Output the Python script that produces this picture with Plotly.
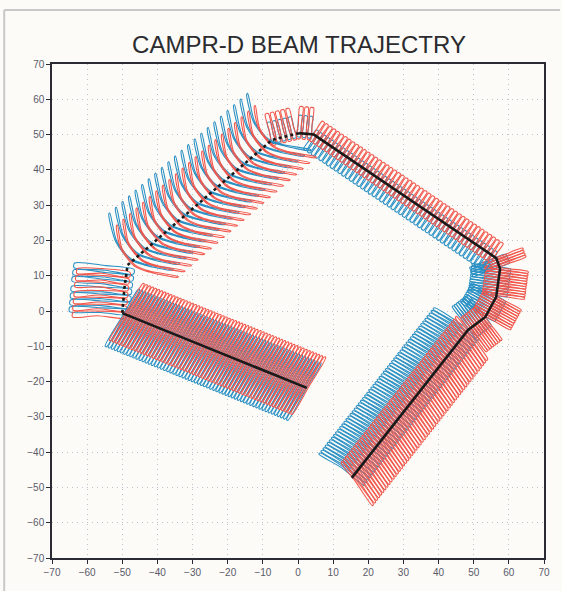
import numpy as np
import plotly.graph_objects as go

# ---- data ----
# aircraft track waypoints (km)
traj_x = [15.3, 48.4, 53.3, 56.4, 57.5, 56.4, 4.5, 0.3, -7.4, -48.5, -49.4, -50.0, 2.5]
traj_y = [-47.3, -5.4, -1.7, 4.0, 12.0, 15.0, 50.0, 50.4, 48.5, 13.0, 6.5, -0.6, -21.8]
seg_dash = ["solid"] * 7 + ["dot"] * 4 + ["solid"]

# beam legs (waypoint index ranges) and footprint parameters
leg_from = [0, 1, 5, 6, 8, 9, 11]
leg_to = [1, 5, 6, 8, 9, 11, 12]
beam_step = [0.95, 0.75, 1.3, 1.5, 2.5, 1.9, 0.95]
loop_width = [0.45, 0.45, 0.8, 0.9, 0.35, 1.3, 0.45]
# footprint outline in track frame: u along track, v to the left of track
blue_u = [[0, 0, -1], [0, 0, 0], [0, 0, 0], [0, 0, 0],
          [-7.8, -2.7, -0.65, -0.9, -4.6], [0, 0, 0.5], [-1.5, 0, 1.2]]
blue_v = [[-4, 4, 11.5], [-3, 3, 8], [-1.5, 2, 5], [1, -2, -5],
          [9.4, 3.0, -0.76, -7.2, -14.5], [2, -6, -15], [-10.5, 0, 8]]
red_u = [[-3, -0.5, 1], [0, 0, 0], [0, 0, 0], [0, 0, 0],
         [-7.6, -2.5, -0.5, -0.7, -4.0], [1, 1, 2], [-1, 0.5, 1.8]]
red_v = [[-9.5, -1, 5], [-8, -2, 4], [-4.5, -1, 2], [1.5, -3, -7.5],
         [11.9, 5.5, 1.7, -4.7, -10.5], [1, -7, -14], [-8.5, 1, 10]]

tick_vals = list(range(-70, 71, 10))
title_text = "CAMPR-D BEAM TRAJECTRY"

BLUE = "#2a90c4"
RED = "#f2574d"


def beam_paths(k, us, vs):
    i0, i1 = leg_from[k], leg_to[k]
    px = np.array(traj_x[i0:i1 + 1], float)
    py = np.array(traj_y[i0:i1 + 1], float)
    seg = np.hypot(np.diff(px), np.diff(py))
    cum = np.concatenate([[0.0], np.cumsum(seg)])
    total = cum[-1]
    n = max(1, int(round(total / beam_step[k])))
    s_vals = (np.arange(n) + 0.5) * total / n
    w = loop_width[k]
    us = np.array(us, float)
    vs = np.array(vs, float)
    uu = np.concatenate([us, us[::-1] + w, [us[0]]])
    vv = np.concatenate([vs, vs[::-1], [vs[0]]])
    xs, ys = [], []
    for s in s_vals:
        j = int(min(np.searchsorted(cum, s, side="right") - 1, len(seg) - 1))
        dx = (px[j + 1] - px[j]) / seg[j]
        dy = (py[j + 1] - py[j]) / seg[j]
        t = (s - cum[j]) / seg[j]
        x0 = px[j] + t * (px[j + 1] - px[j])
        y0 = py[j] + t * (py[j + 1] - py[j])
        nx, ny = -dy, dx
        xs += list(x0 + uu * dx + vv * nx) + [None]
        ys += list(y0 + uu * dy + vv * ny) + [None]
    return xs, ys


fig = go.Figure()
for k in range(len(leg_from)):
    for col, us, vs in ((BLUE, blue_u[k], blue_v[k]), (RED, red_u[k], red_v[k])):
        bx, by = beam_paths(k, us, vs)
        fig.add_trace(go.Scatter(x=bx, y=by, mode="lines",
                                 line=dict(color=col, width=1.1, shape="spline", smoothing=0.8),
                                 hoverinfo="skip", showlegend=False))

# track line, grouped by dash style
start = 0
for i in range(1, len(seg_dash) + 1):
    if i == len(seg_dash) or seg_dash[i] != seg_dash[start]:
        fig.add_trace(go.Scatter(x=traj_x[start:i + 1], y=traj_y[start:i + 1], mode="lines",
                                 line=dict(color="#1a1a1a", width=2.6, dash=seg_dash[start]),
                                 hoverinfo="skip", showlegend=False))
        start = i

L, R, T, B = 52, 16, 64, 33
W, H = 562, 591
pw, ph = W - L - R, H - T - B

axis_common = dict(range=[-70, 70], tickvals=tick_vals, showgrid=True, gridcolor="#bfc2cc",
                   griddash="1px,4px", gridwidth=1, zeroline=False, showline=True, mirror=True,
                   linecolor="#2a2a35", linewidth=1.5, ticks="outside", ticklen=4,
                   tickcolor="#2a2a35", tickfont=dict(size=10, color="#5a5a6a", family="Liberation Sans"))

fig.update_layout(
    width=W, height=H, margin=dict(l=L, r=R, t=T, b=B),
    paper_bgcolor="#fcfbf7", plot_bgcolor="#fcfbf7",
    xaxis=axis_common, yaxis=axis_common,
    title=dict(text=title_text, x=(L + pw / 2) / W, xanchor="center", y=1 - 45 / H, yanchor="middle",
               font=dict(size=24, color="#2b2b30", family="Liberation Sans")),
    shapes=[
        dict(type="line", xref="paper", yref="paper", x0=(4 - L) / pw, x1=(W - L) / pw,
             y0=(H - B - 10) / ph, y1=(H - B - 10) / ph, line=dict(color="#c8c8c8", width=2)),
        dict(type="line", xref="paper", yref="paper", x0=(4 - L) / pw, x1=(4 - L) / pw,
             y0=(H - B - 10) / ph, y1=-B / ph, line=dict(color="#c8c8c8", width=2)),
    ],
)

fig.write_html("out.html")
